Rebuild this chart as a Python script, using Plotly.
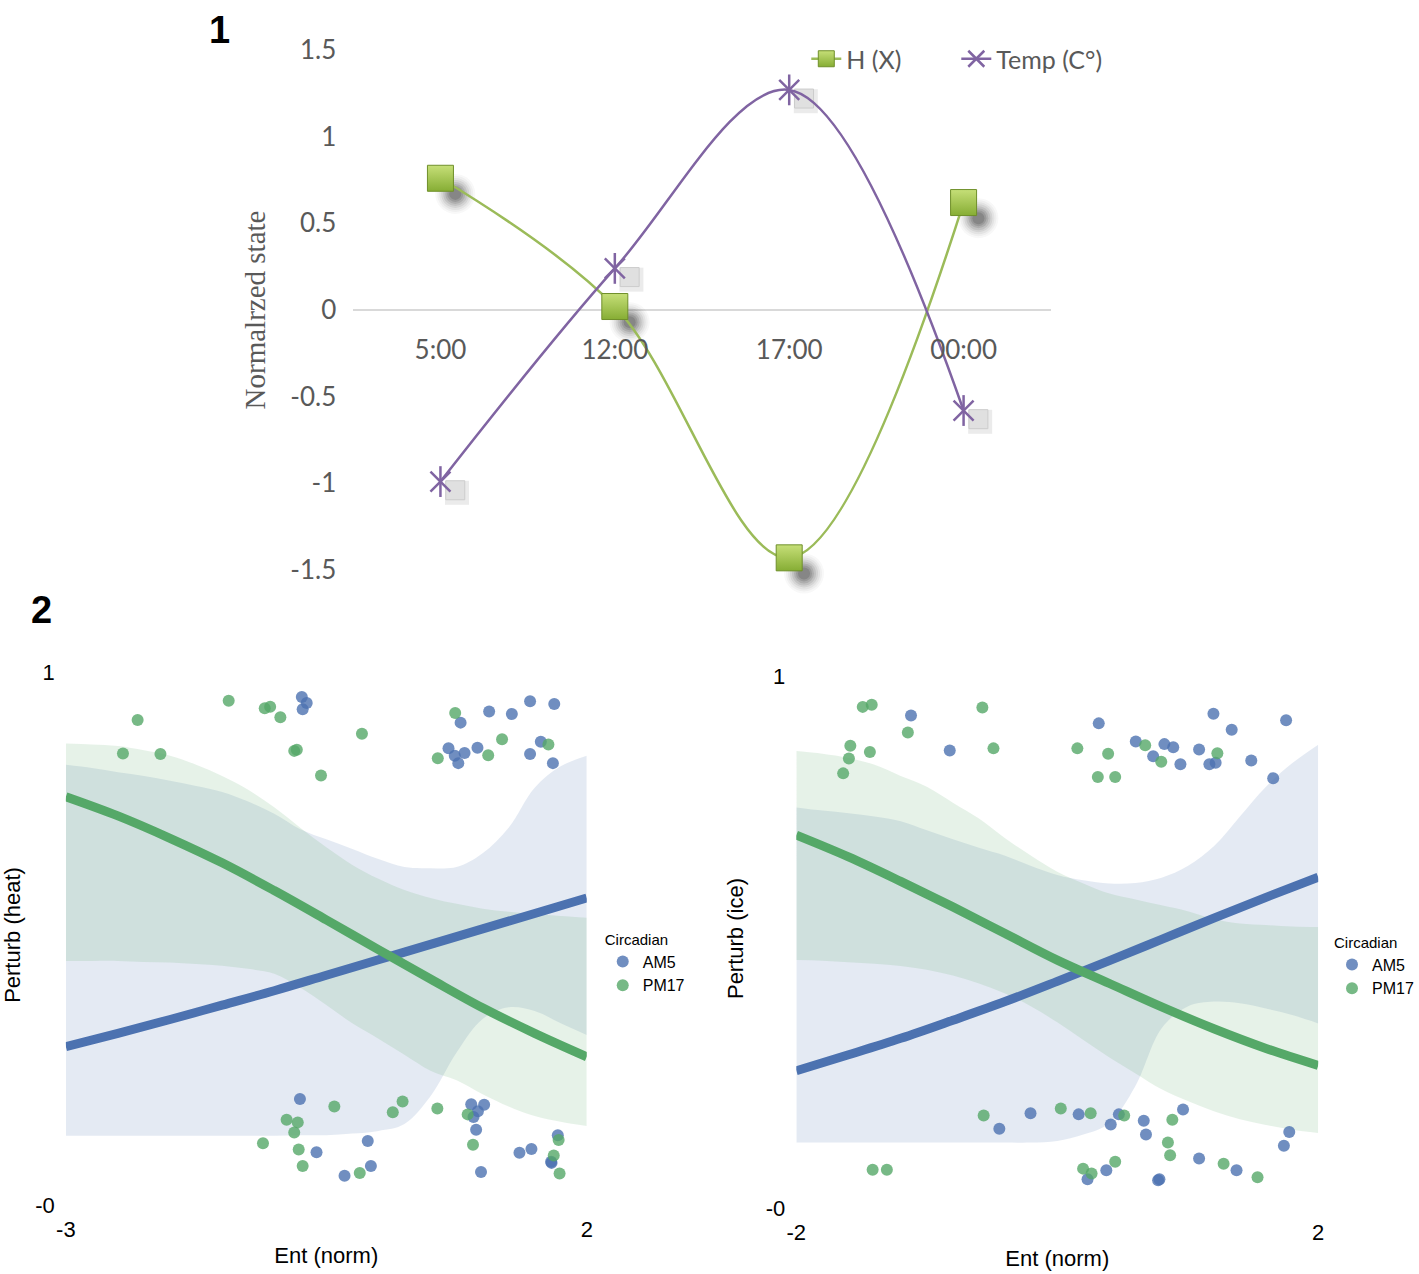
import plotly.graph_objects as go

W, HGT = 1419, 1274

# ---------------- Panel 1 data ----------------
times = ["5:00", "12:00", "17:00", "00:00"]
h_x = [0.76, 0.02, -1.43, 0.62]
temp_c = [-0.99, 0.24, 1.27, -0.58]
y1_tickvals = [1.5, 1, 0.5, 0, -0.5, -1, -1.5]
y1_ticktext = ["1.5", "1", "0.5", "0", "-0.5", "-1", "-1.5"]

# ---------------- Panel 2 (heat) data ----------------
heat_fit_x = [-3, -2.5, -2, -1.5, -1, -0.5, 0, 0.5, 1, 1.5, 2]
heat_am5_fit = [0.297, 0.322, 0.348, 0.375, 0.402, 0.431, 0.460, 0.489, 0.518, 0.547, 0.576]
heat_pm17_fit = [0.766, 0.730, 0.688, 0.642, 0.590, 0.535, 0.479, 0.424, 0.370, 0.322, 0.278]

heat_band_x = [-3, -2.75, -2.5, -2.25, -2, -1.75, -1.5, -1.25, -1, -0.75, -0.5,
               -0.25, 0, 0.25, 0.5, 0.75, 1, 1.25, 1.5, 1.75, 2]
heat_am5_hi = [0.826, 0.820, 0.812, 0.805, 0.796, 0.786, 0.775, 0.757, 0.734, 0.705, 0.686,
               0.668, 0.649, 0.634, 0.632, 0.634, 0.660, 0.708, 0.783, 0.823, 0.843]
heat_am5_lo = [0.130, 0.130, 0.130, 0.130, 0.130, 0.130, 0.130, 0.130, 0.130, 0.131, 0.131,
               0.134, 0.139, 0.152, 0.204, 0.286, 0.349, 0.371, 0.364, 0.341, 0.319]
heat_pm17_hi = [0.866, 0.864, 0.861, 0.853, 0.843, 0.826, 0.805, 0.779, 0.746, 0.708, 0.671,
                0.638, 0.612, 0.591, 0.576, 0.565, 0.556, 0.550, 0.546, 0.542, 0.539]
heat_pm17_lo = [0.458, 0.458, 0.458, 0.456, 0.455, 0.452, 0.449, 0.443, 0.434, 0.408, 0.375,
                0.341, 0.312, 0.282, 0.252, 0.234, 0.208, 0.185, 0.167, 0.156, 0.148]

heat_am5_x = [-0.735, -0.688, -0.727, 0.789, 0.673, 0.733, 0.827, 0.767, 0.951, 1.063, 1.281,
              1.456, 1.688, 1.559, 1.456, 1.675,
              -0.753, -0.594, -0.102, -0.325, -0.072, 0.891, 1.015, 0.955, 0.913, 0.938,
              0.985, 1.354, 1.469, 1.722, 1.658, 1.662]
heat_am5_y = [0.953, 0.942, 0.930, 0.905, 0.857, 0.843, 0.848, 0.829, 0.858, 0.926, 0.921,
              0.945, 0.940, 0.869, 0.846, 0.829,
              0.199, 0.099, 0.120, 0.055, 0.073, 0.189, 0.188, 0.176, 0.165, 0.141,
              0.062, 0.098, 0.105, 0.131, 0.081, 0.079]
heat_pm17_x = [-2.311, -2.452, -2.092, -1.437, -1.091, -1.039, -0.941, -0.808, -0.783, -0.551,
               -0.158, 0.737, 0.570, 1.054, 1.187, 1.632,
               -1.108, -0.881, -0.774, -0.808, -0.765, -0.727, -0.423, -0.179, 0.138, 0.232,
               0.566, 0.857, 0.908, 1.683, 1.730, 1.739]
heat_pm17_y = [0.910, 0.847, 0.846, 0.946, 0.932, 0.935, 0.915, 0.852, 0.854, 0.806,
               0.884, 0.923, 0.838, 0.844, 0.874, 0.864,
               0.116, 0.160, 0.155, 0.136, 0.104, 0.073, 0.185, 0.060, 0.174, 0.194,
               0.181, 0.170, 0.113, 0.093, 0.122, 0.059]

# ---------------- Panel 2 (ice) data ----------------
ice_fit_x = [-2, -1.6, -1.2, -0.8, -0.4, 0, 0.4, 0.8, 1.2, 1.6, 2]
ice_am5_fit = [0.258, 0.288, 0.319, 0.353, 0.388, 0.426, 0.465, 0.505, 0.545, 0.584, 0.622]
ice_pm17_fit = [0.701, 0.660, 0.614, 0.566, 0.516, 0.466, 0.422, 0.378, 0.337, 0.300, 0.268]

ice_band_x = [-2, -1.8, -1.6, -1.4, -1.2, -1, -0.8, -0.6, -0.4, -0.2, 0,
              0.2, 0.4, 0.6, 0.8, 1, 1.2, 1.4, 1.6, 1.8, 2]
ice_am5_hi = [0.753, 0.747, 0.742, 0.736, 0.727, 0.710, 0.693, 0.677, 0.662, 0.643, 0.626,
              0.616, 0.610, 0.611, 0.621, 0.643, 0.680, 0.736, 0.792, 0.836, 0.871]
ice_am5_lo = [0.123, 0.123, 0.123, 0.123, 0.123, 0.123, 0.123, 0.123, 0.123, 0.123, 0.126,
              0.138, 0.160, 0.230, 0.338, 0.379, 0.388, 0.385, 0.375, 0.363, 0.347]
ice_pm17_hi = [0.859, 0.854, 0.846, 0.833, 0.812, 0.792, 0.762, 0.732, 0.695, 0.662, 0.632,
               0.610, 0.591, 0.580, 0.569, 0.558, 0.543, 0.535, 0.532, 0.529, 0.528]
ice_pm17_lo = [0.466, 0.465, 0.462, 0.459, 0.455, 0.448, 0.437, 0.422, 0.403, 0.379, 0.349,
               0.316, 0.283, 0.253, 0.223, 0.201, 0.182, 0.167, 0.156, 0.147, 0.141]

ice_am5_x = [-1.121, -0.824, 0.318, 0.602, 0.735, 0.821, 0.889, 0.944, 1.087, 1.166, 1.214,
             1.197, 1.337, 1.487, 1.655, 1.754,
             -0.444, -0.205, 0.164, 0.472, 0.410, 0.663, 0.680, 0.964, 1.087, 1.374, 1.778,
             1.737, 0.376, 0.232, 0.773, 0.783]
ice_am5_y = [0.926, 0.860, 0.911, 0.877, 0.849, 0.872, 0.866, 0.834, 0.862, 0.834, 0.837,
             0.929, 0.899, 0.841, 0.808, 0.917,
             0.149, 0.178, 0.176, 0.176, 0.157, 0.164, 0.138, 0.185, 0.093, 0.071, 0.143,
             0.117, 0.071, 0.054, 0.052, 0.054]
ice_pm17_x = [-1.491, -1.422, -0.574, -1.145, -1.586, -1.597, -1.436, -1.641, -0.489, 0.154,
              0.390, 0.311, 0.444, 0.674, 0.797, 1.227,
              -1.415, -1.306, -0.564, 0.027, 0.256, 0.513, 0.882, 0.848, 0.865, 0.444,
              0.198, 0.263, 1.275, 1.535]
ice_pm17_y = [0.942, 0.946, 0.941, 0.894, 0.869, 0.845, 0.857, 0.817, 0.864, 0.864,
              0.854, 0.810, 0.810, 0.870, 0.839, 0.855,
              0.072, 0.072, 0.174, 0.187, 0.178, 0.174, 0.166, 0.123, 0.099, 0.087,
              0.074, 0.065, 0.083, 0.058]

# ---------------- styles ----------------
GREEN_XL = "#9bbb59"
PURPLE_XL = "#8064a2"
GRAY_TXT = "#595959"
BLUE = "#4c72b0"
GREEN = "#55a868"
BLUE_BAND = "rgba(76,114,176,0.15)"
GREEN_BAND = "rgba(85,168,104,0.15)"
SANS = "Liberation Sans, Arial, sans-serif"


def px_x(p):
    return p / W


def px_y(p):
    return 1 - p / HGT


fig = go.Figure()

# ---------- Panel 1 ----------
idx = list(range(len(times)))
# soft dark shadows under the H markers (drawn first)
for sz, alpha in [(40, 0.03), (36, 0.04), (32, 0.05), (28, 0.07), (24, 0.09),
                  (20, 0.11), (16, 0.13), (12, 0.15)]:
    fig.add_trace(go.Scatter(x=[i + 0.085 for i in idx], y=[v - 0.09 for v in h_x], mode="markers",
                             marker=dict(symbol="circle", size=sz, color=f"rgba(20,20,20,{alpha})",
                                         line=dict(width=0)),
                             showlegend=False, hoverinfo="skip", xaxis="x", yaxis="y",
                             cliponaxis=False))
# light grey squares behind the Temp markers
fig.add_trace(go.Scatter(x=[i + 0.095 for i in idx], y=[v - 0.065 for v in temp_c], mode="markers",
                         marker=dict(symbol="square", size=24, color="rgba(60,60,60,0.10)",
                                     line=dict(width=0)),
                         showlegend=False, hoverinfo="skip", xaxis="x", yaxis="y", cliponaxis=False))
fig.add_trace(go.Scatter(x=[i + 0.085 for i in idx], y=[v - 0.05 for v in temp_c], mode="markers",
                         marker=dict(symbol="square", size=19, color="#e0e0e0",
                                     line=dict(width=1, color="#cccccc")),
                         showlegend=False, hoverinfo="skip", xaxis="x", yaxis="y", cliponaxis=False))

fig.add_trace(go.Scatter(x=idx, y=h_x, mode="lines+markers", name="H (X)",
                         line=dict(color=GREEN_XL, width=2.5, shape="spline"),
                         marker=dict(symbol="square", size=26, color="#c6df78",
                                     gradient=dict(type="vertical", color="#86ad34"),
                                     line=dict(color="#6f8f2a", width=1)),
                         xaxis="x", yaxis="y", legend="legend", cliponaxis=False))
fig.add_trace(go.Scatter(x=idx, y=temp_c, mode="lines+markers", name="Temp (C°)",
                         line=dict(color=PURPLE_XL, width=2.5, shape="spline"),
                         marker=dict(symbol="x-thin-open", size=20, color=PURPLE_XL,
                                     line=dict(color=PURPLE_XL, width=2.5)),
                         xaxis="x", yaxis="y", legend="legend", cliponaxis=False))
fig.add_trace(go.Scatter(x=idx, y=temp_c, mode="markers", showlegend=False, hoverinfo="skip",
                         marker=dict(symbol="line-ns-open", size=22, color=PURPLE_XL,
                                     line=dict(color=PURPLE_XL, width=2.5)),
                         xaxis="x", yaxis="y", cliponaxis=False))


# ---------- Panel 2 helpers ----------
def add_panel(xa, ya, lg, bx, a_hi, a_lo, g_hi, g_lo, fx, a_fit, g_fit, ax, ay, gx, gy):
    fig.add_trace(go.Scatter(x=bx, y=a_lo, mode="lines", line=dict(width=0, shape="spline"),
                             showlegend=False, hoverinfo="skip", xaxis=xa, yaxis=ya))
    fig.add_trace(go.Scatter(x=bx, y=a_hi, mode="lines", line=dict(width=0, shape="spline"),
                             fill="tonexty", fillcolor=BLUE_BAND,
                             showlegend=False, hoverinfo="skip", xaxis=xa, yaxis=ya))
    fig.add_trace(go.Scatter(x=bx, y=g_lo, mode="lines", line=dict(width=0, shape="spline"),
                             showlegend=False, hoverinfo="skip", xaxis=xa, yaxis=ya))
    fig.add_trace(go.Scatter(x=bx, y=g_hi, mode="lines", line=dict(width=0, shape="spline"),
                             fill="tonexty", fillcolor=GREEN_BAND,
                             showlegend=False, hoverinfo="skip", xaxis=xa, yaxis=ya))
    fig.add_trace(go.Scatter(x=fx, y=a_fit, mode="lines", line=dict(color=BLUE, width=9, shape="spline"),
                             showlegend=False, hoverinfo="skip", xaxis=xa, yaxis=ya))
    fig.add_trace(go.Scatter(x=fx, y=g_fit, mode="lines", line=dict(color=GREEN, width=9, shape="spline"),
                             showlegend=False, hoverinfo="skip", xaxis=xa, yaxis=ya))
    fig.add_trace(go.Scatter(x=ax, y=ay, mode="markers", name="AM5",
                             marker=dict(color=BLUE, size=12, opacity=0.8, line=dict(width=0)),
                             xaxis=xa, yaxis=ya, legend=lg, cliponaxis=False))
    fig.add_trace(go.Scatter(x=gx, y=gy, mode="markers", name="PM17",
                             marker=dict(color=GREEN, size=12, opacity=0.8, line=dict(width=0)),
                             xaxis=xa, yaxis=ya, legend=lg, cliponaxis=False))


add_panel("x2", "y2", "legend2", heat_band_x, heat_am5_hi, heat_am5_lo, heat_pm17_hi, heat_pm17_lo,
          heat_fit_x, heat_am5_fit, heat_pm17_fit, heat_am5_x, heat_am5_y, heat_pm17_x, heat_pm17_y)
add_panel("x3", "y3", "legend3", ice_band_x, ice_am5_hi, ice_am5_lo, ice_pm17_hi, ice_pm17_lo,
          ice_fit_x, ice_am5_fit, ice_pm17_fit, ice_am5_x, ice_am5_y, ice_pm17_x, ice_pm17_y)

# ---------- layout ----------
xl_font = dict(family="Lato, Open Sans, sans-serif", size=26, color=GRAY_TXT)

bottom_axis_common = dict(showgrid=False, zeroline=False, showline=False, ticks="", automargin=False,
                          tickfont=dict(family=SANS, size=22, color="black"),
                          title_font=dict(family=SANS, size=22, color="black"))

legend_common = dict(xanchor="left", yanchor="top", bgcolor="rgba(0,0,0,0)", traceorder="normal",
                     font=dict(family=SANS, size=16, color="black"),
                     title=dict(text="Circadian", font=dict(family=SANS, size=15, color="black")),
                     itemsizing="constant", tracegroupgap=0)

fig.update_layout(
    width=W, height=HGT, autosize=False,
    margin=dict(l=0, r=0, t=0, b=0, pad=0),
    paper_bgcolor="white", plot_bgcolor="rgba(0,0,0,0)",
    xaxis=dict(domain=[px_x(354), px_x(1053)], range=[-0.5, 3.5], anchor="free",
               position=px_y(310), tickvals=idx, ticktext=times, showgrid=False,
               zeroline=False, showline=False, ticks="", ticklabelstandoff=22,
               tickfont=xl_font, automargin=False),
    yaxis=dict(domain=[px_y(587.3), px_y(32.7)], range=[-1.6, 1.6], anchor="x",
               tickvals=y1_tickvals, ticktext=y1_ticktext, showgrid=False,
               zeroline=True, zerolinecolor="#d9d9d9", zerolinewidth=2, showline=False,
               ticks="", ticklabelstandoff=16, tickfont=xl_font, automargin=False,
               title=dict(text="Normalrzed state", standoff=16,
                          font=dict(family="Liberation Serif, serif", size=29, color=GRAY_TXT))),
    xaxis2=dict(domain=[px_x(66), px_x(588)], range=[-3, 2], anchor="y2",
                tickvals=[-3, 2], ticktext=["-3", "2"], ticklabelstandoff=4,
                title=dict(text="Ent (norm)", standoff=6), **bottom_axis_common),
    yaxis2=dict(domain=[px_y(1210), px_y(660)], range=[-0.0094, 1.0225], anchor="x2",
                tickvals=[0, 1], ticktext=["-0", "1"], ticklabelstandoff=10,
                title=dict(text="Perturb (heat)", standoff=16), **bottom_axis_common),
    xaxis3=dict(domain=[px_x(798), px_x(1321)], range=[-2, 2], anchor="y3",
                tickvals=[-2, 2], ticktext=["-2", "2"], ticklabelstandoff=4,
                title=dict(text="Ent (norm)", standoff=6), **bottom_axis_common),
    yaxis3=dict(domain=[px_y(1213), px_y(664)], range=[-0.0094, 1.0226], anchor="x3",
                tickvals=[0, 1], ticktext=["-0", "1"], ticklabelstandoff=10,
                title=dict(text="Perturb (ice)", standoff=16), **bottom_axis_common),
    legend=dict(orientation="h", x=px_x(808), y=px_y(36), xanchor="left", yanchor="top",
                traceorder="normal", bgcolor="rgba(0,0,0,0)", entrywidth=105,
                font=dict(family="Lato, Open Sans, sans-serif", size=25, color=GRAY_TXT),
                itemsizing="trace"),
    legend2=dict(x=px_x(604), y=px_y(925), **legend_common),
    legend3=dict(x=px_x(1335), y=px_y(928), **legend_common),
    annotations=[
        dict(text="<b>1</b>", x=px_x(220), y=px_y(30), xref="paper", yref="paper",
             showarrow=False, xanchor="center", yanchor="middle",
             font=dict(family=SANS, size=38, color="black")),
        dict(text="<b>2</b>", x=px_x(42), y=px_y(610), xref="paper", yref="paper",
             showarrow=False, xanchor="center", yanchor="middle",
             font=dict(family=SANS, size=38, color="black")),
    ],
)

fig.write_html("out.html", config={"displayModeBar": False},
               post_script="document.body.style.margin='0';")
